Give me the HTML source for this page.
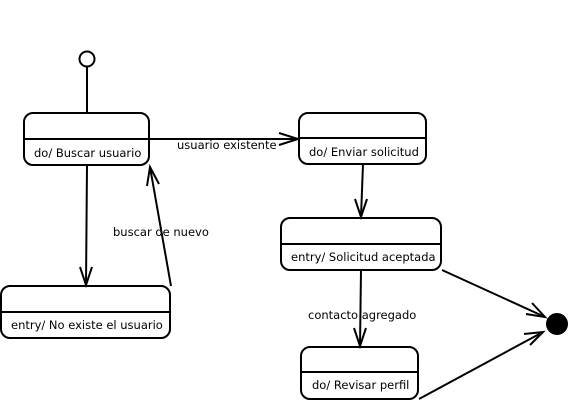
<!DOCTYPE html>
<html><head><style>html,body{margin:0;padding:0;background:#fff;width:568px;height:401px;overflow:hidden}</style></head>
<body>
<svg width="568" height="401" xmlns="http://www.w3.org/2000/svg" font-family="DejaVu Sans, sans-serif" font-size="11.5" fill="none" stroke="#000" stroke-width="2">
<circle cx="87" cy="59" r="7.5" fill="#fff"/>
<line x1="87" y1="67" x2="87" y2="113"/>
<rect x="24" y="113" width="125" height="52" rx="9"/>
<line x1="24" y1="139" x2="149" y2="139"/>
<rect x="299" y="113" width="127" height="51" rx="9"/>
<line x1="299" y1="138" x2="426" y2="138"/>
<rect x="281" y="218" width="160" height="52" rx="9"/>
<line x1="281" y1="244" x2="441" y2="244"/>
<rect x="301" y="347" width="117" height="52" rx="9"/>
<line x1="301" y1="372" x2="418" y2="372"/>
<rect x="1" y="286" width="169" height="52" rx="9"/>
<line x1="1" y1="312" x2="170" y2="312"/>
<circle cx="557" cy="324" r="10" fill="#000"/>
<!-- arrows -->
<line x1="149" y1="139" x2="298" y2="139"/>
<polyline points="279,133 298,139 279,145"/>
<line x1="363" y1="164" x2="361" y2="217"/>
<polyline points="355,199 361,217 367,199"/>
<line x1="361" y1="270" x2="360" y2="346"/>
<polyline points="354,328 360,346 366,328"/>
<line x1="87" y1="165" x2="86" y2="285"/>
<polyline points="80,267 86,285 92,267"/>
<line x1="171" y1="286" x2="150" y2="167"/>
<polyline points="147,186 150,167 159,184"/>
<line x1="442" y1="270" x2="545" y2="317"/>
<polyline points="532,303 545,317 526,314"/>
<line x1="419" y1="399" x2="543" y2="332"/>
<polyline points="524,334 543,332 530,345"/>
<g fill="#000" stroke="none">
<text x="34" y="157">do/ Buscar usuario</text>
<text x="309" y="156">do/ Enviar solicitud</text>
<text x="291" y="261">entry/ Solicitud aceptada</text>
<text x="312" y="389">do/ Revisar perfil</text>
<text x="11" y="329">entry/ No existe el usuario</text>
<text x="177" y="149">usuario existente</text>
<text x="113" y="236">buscar de nuevo</text>
<text x="308" y="319">contacto agregado</text>
</g>
</svg>
</body></html>
